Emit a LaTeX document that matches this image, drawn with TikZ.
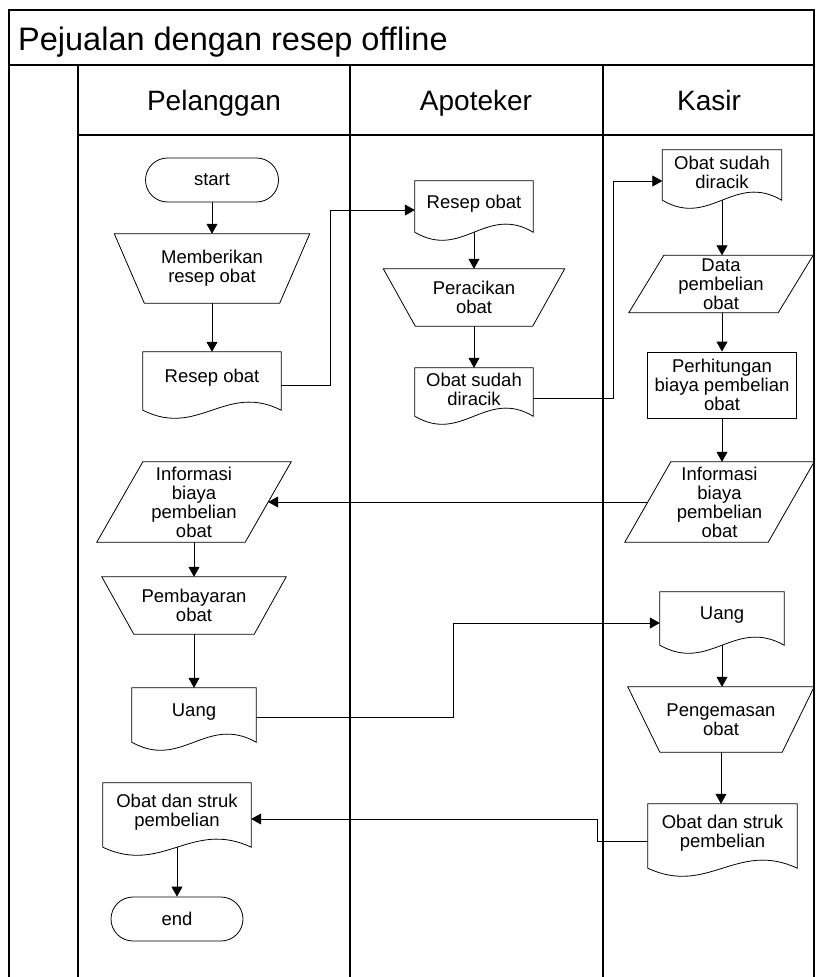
\documentclass[tikz,border=0pt]{standalone}
\usepackage{fontspec}
\setmainfont{Liberation Sans}
\usetikzlibrary{arrows.meta,calc}

\newcommand{\docshape}[1]{%
  \draw[line] ($(#1.south west)+(0,6)$) -- (#1.north west) -- (#1.north east) -- ($(#1.south east)+(0,6)$)
    .. controls ($(#1.south east)!0.4!(#1.south west)+(0,-22)$)
    and ($(#1.south east)!0.6!(#1.south west)+(0,34)$) .. ($(#1.south west)+(0,6)$) -- cycle;}
\newcommand{\manop}[2]{%
  \draw[line] (#1.north west) -- (#1.north east) -- ([xshift=-#2]#1.south east)
    -- ([xshift=#2]#1.south west) -- cycle;}
\newcommand{\datashape}[2]{%
  \draw[line] ([xshift=#2]#1.north west) -- (#1.north east) -- ([xshift=-#2]#1.south east)
    -- (#1.south west) -- cycle;}

\begin{document}
\begin{tikzpicture}[x=1pt, y=-1pt,
    every node/.style = {font=\fontsize{18.5}{19}\selectfont, align=center,
      inner xsep=2pt, inner ysep=0pt},
    box/.style 2 args = {minimum width=#1, minimum height=#2},
    terminal/.style 2 args = {box={#1}{#2}, draw, line width=0.8pt, rounded corners=22pt},
    process/.style 2 args = {box={#1}{#2}, draw, line width=0.8pt},
    line/.style = {line width=0.8pt},
    flow/.style = {line width=0.8pt, -{Triangle[length=10pt, width=11pt]}},
    lane/.style = {line width=1.2pt},
    head/.style = {anchor=base, font=\fontsize{28}{32}\selectfont}]

  \useasboundingbox (0,0) rectangle (815,977);

  % frame and lanes
  \draw[lane] (9,977) -- (9,10) -- (814,10) -- (814,977);
  \draw[lane] (9,65) -- (814,65);
  \draw[lane] (78,135) -- (814,135);
  \draw[lane] (78,65) -- (78,977);
  \draw[lane] (350,65) -- (350,977);
  \draw[lane] (603,65) -- (603,977);

  \node[anchor=base west, font=\fontsize{32.5}{36}\selectfont] (title) at (16,50) {Pejualan dengan resep offline};
  \node[head] (hpel) at (214,110) {Pelanggan};
  \node[head] (hapo) at (476,110) {Apoteker};
  \node[head] (hkas) at (709,110) {Kasir};

  % Pelanggan
  \node[terminal={133}{44}] (start) at (212,180) {start};
  \node[box={195}{69}] (beri) at (212,268.5) {Memberikan\\resep obat};
  \node[box={138}{52}] (resepP) at (212,378) {Resep obat};
  \node[box={194}{80}] (infoP) at (194,502) {Informasi\\biaya\\pembelian\\obat};
  \node[box={184}{57}] (bayar) at (194,605.5) {Pembayaran\\obat};
  \node[box={124}{48}] (uangP) at (194,712) {Uang};
  \node[box={148}{58}] (strukP) at (177,812) {Obat dan struk\\pembelian};
  \node[terminal={132}{44}] (end) at (177,919) {end};

  % Apoteker
  \node[box={118}{45}] (resepA) at (474,203.5) {Resep obat};
  \node[box={181}{57}] (racik) at (474,297.5) {Peracikan\\obat};
  \node[box={118}{42}] (obatA) at (474,389) {Obat sudah\\diracik};

  % Kasir
  \node[box={119}{44}] (obatK) at (722,172) {Obat sudah\\diracik};
  \node[box={184}{57}] (data) at (721,284) {Data\\pembelian\\obat};
  \node[process={149}{66}] (hitung) at (722,385) {Perhitungan\\biaya pembelian\\obat};
  \node[box={189}{80}] (infoK) at (719.5,502) {Informasi\\biaya\\pembelian\\obat};
  \node[box={124}{47}] (uangK) at (722,615.5) {Uang};
  \node[box={186}{65}] (kemas) at (721,719.5) {Pengemasan\\obat};
  \node[box={149}{58}] (strukK) at (722.5,833) {Obat dan struk\\pembelian};

  \manop{beri}{30pt}
  \manop{bayar}{32pt}
  \manop{racik}{32pt}
  \manop{kemas}{32pt}
  \datashape{infoP}{46pt}
  \datashape{data}{35pt}
  \datashape{infoK}{46pt}
  \docshape{resepP}
  \docshape{uangP}
  \docshape{strukP}
  \docshape{resepA}
  \docshape{obatA}
  \docshape{obatK}
  \docshape{uangK}
  \docshape{strukK}

  % connectors
  \draw[flow] (start) -- (beri);
  \draw[flow] (beri) -- (resepP);
  \draw[flow] ([yshift=-7pt]resepP.east) -- ++(49,0) |- ([yshift=-6.5pt]resepA.west);
  \draw[flow] ([yshift=-6pt]resepA.south) -- (racik);
  \draw[flow] (racik) -- (obatA);
  \draw[flow] ([yshift=-9pt]obatA.east) -- ++(80,0) |- ([yshift=-9pt]obatK.west);
  \draw[flow] ([yshift=-6pt]obatK.south) -- (obatK |- data.north);
  \draw[flow] (hitung |- data.south) -- (hitung);
  \draw[flow] (hitung) -- (hitung |- infoK.north);
  \draw[flow] ([xshift=23pt]infoK.west) -- ([xshift=-23pt]infoP.east);
  \draw[flow] (infoP) -- (bayar);
  \draw[flow] (bayar) -- (uangP);
  \draw[flow] ([yshift=-5pt]uangP.east) -- ++(197,0) |- ([yshift=-7.5pt]uangK.west);
  \draw[flow] ([yshift=-6pt]uangK.south) -- (uangK |- kemas.north);
  \draw[flow] (kemas) -- (kemas |- strukK.north);
  \draw[flow] ([yshift=-8pt]strukK.west) -- ++(-50,0) |- ([yshift=-7pt]strukP.east);
  \draw[flow] ([yshift=-6pt]strukP.south) -- (end);
\end{tikzpicture}
\end{document}
